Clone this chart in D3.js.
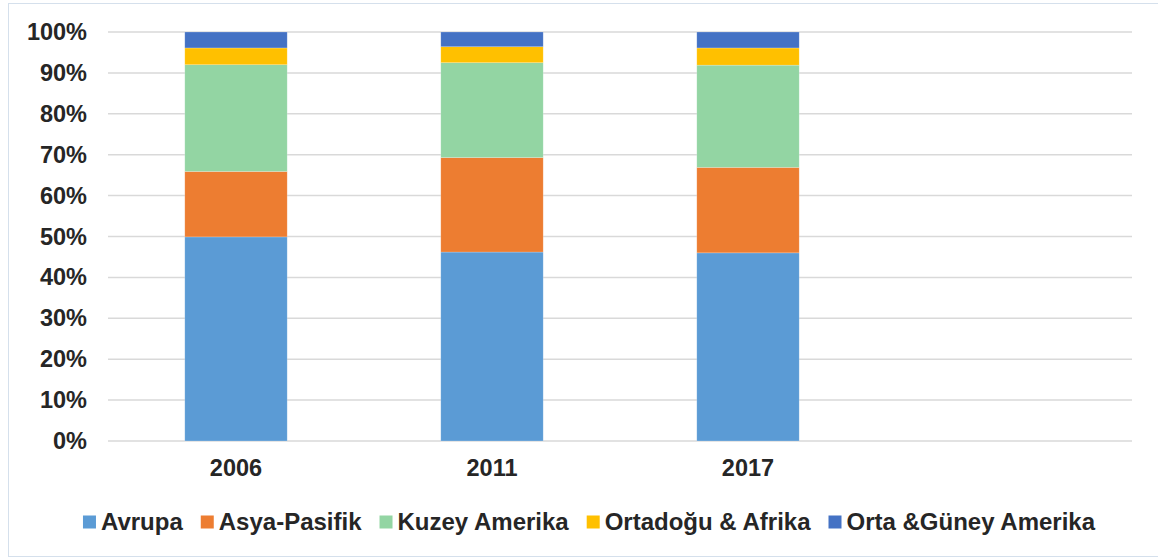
<!DOCTYPE html>
<html>
<head>
<meta charset="utf-8">
<script src="https://cdn.jsdelivr.net/npm/d3@7"></script>
<style>
  body { margin: 0; background: #fff; }
  svg { display: block; font-family: "Liberation Sans", Arial, sans-serif; }
</style>
</head>
<body>
<svg id="chart" width="1158" height="559"></svg>
<script>
// categories (the last slot is an empty category, as in the original sheet)
const categories = ["2006", "2011", "2017", ""];
const years = ["2006", "2011", "2017"];

const seriesNames = ["Avrupa", "Asya-Pasifik", "Kuzey Amerika", "Ortadoğu & Afrika", "Orta &Güney Amerika"];
const seriesColors = ["#5B9BD5", "#ED7D31", "#93D5A3", "#FFC000", "#4472C4"];

// shares per year, in %
const avrupa = [49.9, 46.2, 46.0];
const asyaPasifik = [16.0, 23.1, 20.9];
const kuzeyAmerika = [26.1, 23.2, 25.0];
const ortadoguAfrika = [4.1, 3.9, 4.2];
const ortaGuneyAmerika = [3.9, 3.6, 3.9];

const yTicks = [0, 0.1, 0.2, 0.3, 0.4, 0.5, 0.6, 0.7, 0.8, 0.9, 1];

const seriesValues = [avrupa, asyaPasifik, kuzeyAmerika, ortadoguAfrika, ortaGuneyAmerika];

const rows = years.map((year, i) => {
  const row = { year };
  seriesNames.forEach((name, s) => (row[name] = seriesValues[s][i]));
  return row;
});

const svg = d3.select("svg#chart");
const width = 1158;
const height = 559;
const margin = { top: 32, right: 26, bottom: 118, left: 108 };
const textColor = "#262626";
const fontSize = 23.5;

// chart area border
svg
  .append("rect")
  .attr("x", 8.5)
  .attr("y", 3.5)
  .attr("width", width)
  .attr("height", 553)
  .attr("fill", "none")
  .attr("stroke", "#d5e0ec")
  .attr("stroke-width", 1);

const x = d3
  .scaleBand()
  .domain(categories)
  .range([margin.left, width - margin.right])
  .paddingInner(0.6)
  .paddingOuter(0.3);

const y = d3
  .scaleLinear()
  .domain([0, 1])
  .range([height - margin.bottom, margin.top]);

const stack = d3
  .stack()
  .keys(seriesNames)
  .offset(d3.stackOffsetExpand);

const stacked = stack(rows);

// gridlines
svg
  .append("g")
  .attr("stroke", "#d9d9d9")
  .attr("stroke-width", 1.5)
  .selectAll("line")
  .data(yTicks)
  .join("line")
  .attr("x1", margin.left)
  .attr("x2", width - margin.right)
  .attr("y1", (d) => y(d))
  .attr("y2", (d) => y(d));

// bars
svg
  .append("g")
  .selectAll("g")
  .data(stacked)
  .join("g")
  .attr("fill", (d, i) => seriesColors[i])
  .selectAll("rect")
  .data((d) => d)
  .join("rect")
  .attr("x", (d) => x(d.data.year))
  .attr("width", x.bandwidth())
  .attr("y", (d) => y(d[1]))
  .attr("height", (d) => y(d[0]) - y(d[1]))
  .attr("stroke", "#ffffff")
  .attr("stroke-opacity", 0.35)
  .attr("stroke-width", 0.6);

// y axis labels
const yAxis = svg
  .append("g")
  .attr("transform", `translate(${margin.left},0)`)
  .call(
    d3
      .axisLeft(y)
      .tickValues(yTicks)
      .tickFormat(d3.format(".0%"))
      .tickSize(0)
      .tickPadding(21)
  );
yAxis.select(".domain").remove();
yAxis
  .selectAll("text")
  .attr("fill", textColor)
  .attr("font-size", fontSize)
  .attr("font-weight", "bold")
  .attr("font-family", "Liberation Sans, Arial, sans-serif");

// x axis labels
const xAxis = svg
  .append("g")
  .attr("transform", `translate(0,${height - margin.bottom})`)
  .call(d3.axisBottom(x).tickSize(0).tickPadding(18));
xAxis.select(".domain").remove();
xAxis
  .selectAll("text")
  .attr("fill", textColor)
  .attr("font-size", fontSize)
  .attr("font-weight", "bold")
  .attr("font-family", "Liberation Sans, Arial, sans-serif");

// legend
const legend = svg.append("g").attr("transform", "translate(0,522)");
const items = legend
  .selectAll("g")
  .data(seriesNames)
  .join("g");

items
  .append("rect")
  .attr("y", -6.5)
  .attr("width", 13)
  .attr("height", 13)
  .attr("fill", (d, i) => seriesColors[i]);

items
  .append("text")
  .attr("x", 18)
  .attr("dy", "0.35em")
  .attr("fill", textColor)
  .attr("font-size", 24)
  .attr("font-weight", "bold")
  .text((d) => d);

let cursor = 0;
const gap = 18;
const offsets = [];
items.each(function () {
  offsets.push(cursor);
  const w = d3.select(this).select("text").node().getComputedTextLength();
  cursor += 18 + w + gap;
});
const legendWidth = cursor - gap;
const legendStart = (margin.left + width - margin.right) / 2 - legendWidth / 2 - 31;
items.attr("transform", (d, i) => `translate(${legendStart + offsets[i]},0)`);
</script>
</body>
</html>
